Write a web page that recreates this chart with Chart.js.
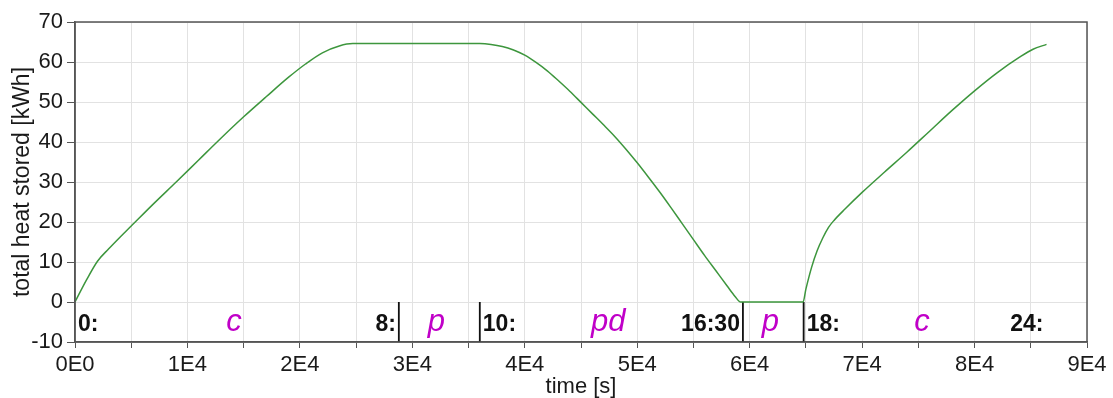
<!DOCTYPE html>
<html>
<head>
<meta charset="utf-8">
<script src="https://cdn.jsdelivr.net/npm/chart.js@4"></script>
<style>
	html, body { margin: 0; padding: 0; background: #fff; }
	#wrap { width: 1113px; height: 398px; }
</style>
</head>
<body>
<div id="wrap"><canvas id="heatChart" width="1113" height="398"></canvas></div>
<script>
// curve: time [s] / total heat stored [kWh]
const times = [0, 1000, 2000, 3000, 4000, 5000, 7000, 9000, 11000, 13000, 15000, 17000, 19000, 20500, 22000, 23500, 24700,
	36000, 37000, 38000, 39000, 40000, 41000, 42000, 43000, 44000, 45000, 46000, 47000, 48000, 49000,
	50000, 51000, 52000, 53000, 54000, 55000, 56000, 57000, 58000, 58700, 59200,
	64750, 65000, 65500, 66000, 66500, 67000, 67500, 68500, 70000, 72000, 74000, 76000, 78000, 80000,
	82000, 84000, 85200, 86400];
const heat = [0, 5.4, 10.2, 13.3, 16.2, 19.0, 24.6, 30.0, 35.5, 41.0, 46.3, 51.3, 56.2, 59.5, 62.3, 64.0, 64.6,
	64.6, 64.4, 63.9, 63.0, 61.7, 59.9, 57.8, 55.3, 52.7, 49.9, 47.1, 44.3, 41.4, 38.2,
	34.8, 31.2, 27.5, 23.6, 19.6, 15.6, 11.6, 7.8, 4.0, 1.4, 0,
	0, 3.2, 8.6, 12.8, 16.0, 18.6, 20.4, 23.3, 27.4, 32.5, 37.5, 42.7, 47.9, 52.8,
	57.3, 61.2, 63.2, 64.4];

// day schedule: phase borders, clock labels and operating mode
const borders = [0, 28800, 36000, 59400, 64800, 86400];
const clockLabels = ['0:', '8:', '10:', '16:30', '18:', '24:'];
const phases = ['c', 'p', 'pd', 'p', 'c'];

const markerDatasets = borders.slice(1, -1).map(t => ({
	data: [{x: t, y: 0}, {x: t, y: -10}],
	borderColor: '#111',
	borderWidth: 1.8,
	pointRadius: 0
}));

const data = {
	datasets: [
		{
			label: 'total heat stored',
			data: times.map((t, i) => ({x: t, y: heat[i]})),
			borderColor: '#3d963d',
			borderWidth: 1.5,
			pointRadius: 0,
			cubicInterpolationMode: 'monotone'
		},
		...markerDatasets
	]
};

const FONT = '"Liberation Sans", Arial, sans-serif';

// frame around the plot + schedule labels
const overlay = {
	id: 'overlay',
	afterDatasetsDraw(chart) {
		const {ctx, chartArea: a, scales: {x, y}} = chart;
		ctx.save();
		ctx.strokeStyle = '#555';
		ctx.lineWidth = 1.5;
		ctx.strokeRect(a.left, a.top, a.right - a.left, a.bottom - a.top);

		const base = y.getPixelForValue(-7.3);
		ctx.textBaseline = 'alphabetic';
		ctx.fillStyle = '#111';
		ctx.font = 'bold 23px ' + FONT;
		clockLabels.forEach((txt, i) => {
			const px = x.getPixelForValue(borders[i]);
			const left = i % 2 === 0;
			ctx.textAlign = left ? 'left' : 'right';
			ctx.fillText(txt, left ? px + 3 : px - 3, base);
		});

		ctx.fillStyle = '#c000c8';
		ctx.font = 'italic 31px ' + FONT;
		ctx.textAlign = 'center';
		phases.forEach((txt, i) => {
			const px = x.getPixelForValue((borders[i] + borders[i + 1]) / 2);
			ctx.fillText(txt, px - 3, base);
		});
		ctx.restore();
	}
};

const config = {
	type: 'line',
	data: data,
	options: {
		responsive: false,
		animation: false,
		devicePixelRatio: 1,
		layout: {padding: {top: 22, right: 26, left: 0, bottom: 0}},
		plugins: {
			legend: {display: false},
			tooltip: {enabled: false}
		},
		scales: {
			x: {
				type: 'linear',
				min: 0,
				max: 90000,
				afterFit: s => { s.height = 56; },
				grid: {color: '#e2e2e2', tickColor: '#555', tickLength: 6},
				border: {color: '#555', width: 1.5},
				ticks: {
					stepSize: 5000,
					autoSkip: false,
					maxRotation: 0,
					padding: 4,
					color: '#1a1a1a',
					font: {family: FONT, size: 22},
					callback: v => v % 10000 !== 0 ? '' : (v === 0 ? '0E0' : (v / 10000) + 'E4')
				},
				title: {
					display: true,
					text: 'time [s]',
					color: '#1a1a1a',
					padding: {top: 0, bottom: 0},
					font: {family: FONT, size: 22, lineHeight: 1}
				}
			},
			y: {
				min: -10,
				max: 70,
				afterFit: s => { s.width = 75; },
				grid: {color: '#e2e2e2', tickColor: '#555', tickLength: 8},
				border: {color: '#555', width: 1.5},
				ticks: {
					stepSize: 10,
					padding: 4,
					color: '#1a1a1a',
					font: {family: FONT, size: 22}
				},
				title: {
					display: true,
					text: 'total heat stored [kWh]',
					color: '#1a1a1a',
					padding: {top: 11, bottom: 0},
					font: {family: FONT, size: 23, lineHeight: 1}
				}
			}
		}
	},
	plugins: [overlay]
};

const heatChart = new Chart(
	document.getElementById('heatChart'),
	config
);
</script>
</body>
</html>
